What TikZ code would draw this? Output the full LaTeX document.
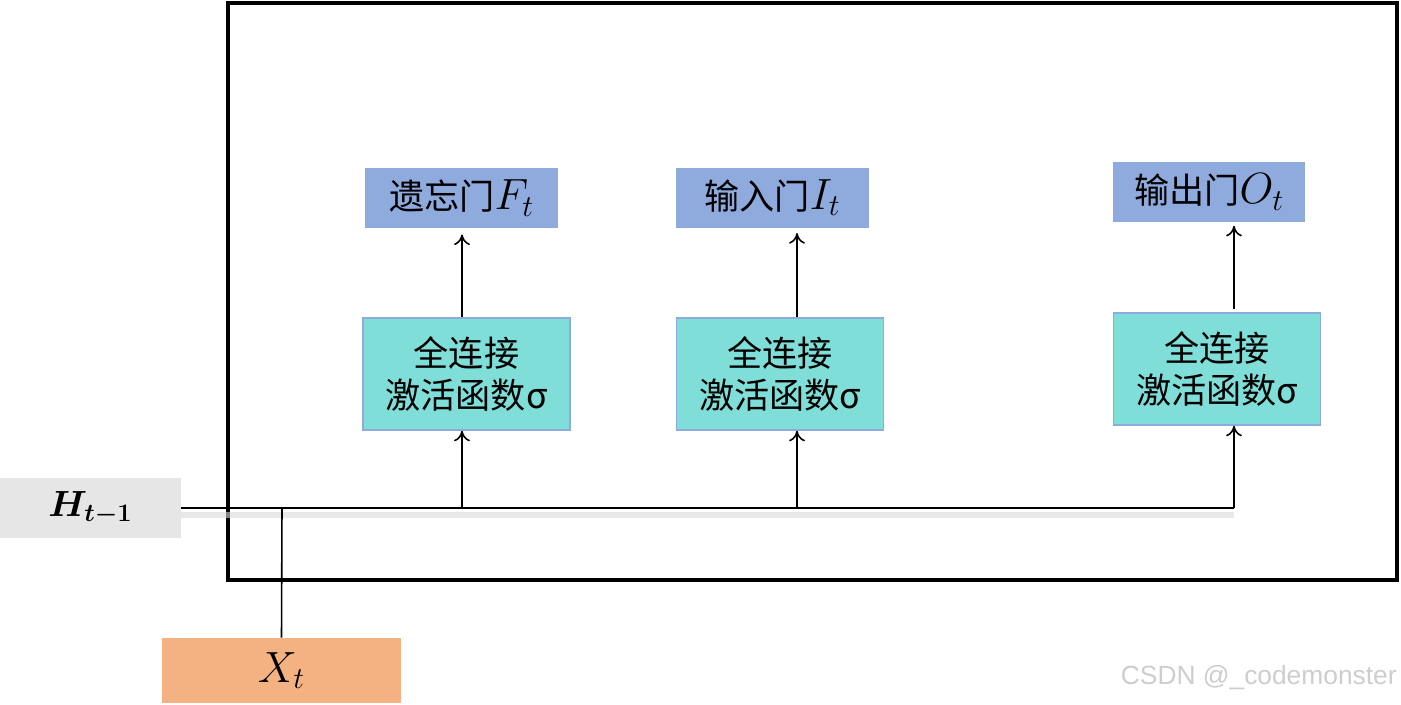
\documentclass[tikz,border=0pt]{standalone}
\usepackage{amsmath,amssymb,bm}
\usepackage{fontspec}
\newfontfamily\cjk{Noto Sans CJK SC}
\newfontfamily\wmfont{Liberation Sans}
\usetikzlibrary{arrows.meta}
\definecolor{gatefill}{RGB}{143,170,220}
\definecolor{fcfill}{RGB}{128,222,217}
\definecolor{hfill}{RGB}{230,230,230}
\definecolor{xfill}{RGB}{244,178,131}
\definecolor{wmark}{RGB}{205,205,205}
\newcommand{\gatemath}[1]{{\fontsize{23}{24}\selectfont$#1$}}
\tikzset{
  gate/.style ={fill=gatefill, minimum width=3.86cm, minimum height=1.2cm, inner sep=0pt,
                font=\cjk\fontsize{20}{22}\selectfont},
  fc/.style   ={fill=fcfill, draw=gatefill, line width=0.9pt, minimum width=4.14cm,
                minimum height=2.24cm, inner sep=0pt, align=center,
                font=\cjk\fontsize{20}{23.5}\selectfont},
  inbox/.style={inner sep=0pt, font=\fontsize{23}{24}\selectfont},
  wire/.style ={draw=black, line width=0.9pt},
  shd/.style  ={draw=black!15, line width=3.5pt, opacity=0.6},
  ptr/.style  ={wire, -{To[length=6pt,width=9pt]}},
}

\begin{document}
\begin{tikzpicture}[x=0.02cm,y=-0.02cm]
  \useasboundingbox (0,0) rectangle (1401,704);
  % outer cell frame
  \draw[line width=2.3pt] (228,3) rectangle (1397,580);
  % inputs
  \node[inbox, fill=hfill, minimum width=3.62cm, minimum height=1.2cm,
        font=\fontsize{20}{22}\selectfont] (hprev) at (90.5,508) {$\boldsymbol{H_{t-1}}$};
  \node[inbox, fill=xfill, minimum width=4.78cm, minimum height=1.3cm] (xin) at (281.5,670.5) {$X_t$};
  % fully connected layers
  \node[fc] (fc1) at (466.5,374) {全连接\\激活函数σ};
  \node[fc] (fc2) at (780,374) {全连接\\激活函数σ};
  \node[fc] (fc3) at (1217,369) {全连接\\激活函数σ};
  % gates
  \node[gate] (gf) at (461.5,198) {遗忘门\gatemath{F_t}};
  \node[gate] (gi) at (772.5,197.5) {输入门\gatemath{I_t}};
  \node[gate] (go) at (1209,192) {输出门\gatemath{O_t}};
  % taps on the input bus
  \coordinate (j0) at (282,508);
  \coordinate (t1) at (462,508);
  \coordinate (t2) at (797,508);
  \coordinate (t3) at (1234,508);
  % bus
  \draw[shd] ([yshift=-4pt]hprev.east) -- ([yshift=-4pt]t3);
  \draw[wire] (hprev.east) -- (t3);
  \draw[wire] (xin.north) -- (j0);
  \draw[ptr] (t1) -- (t1 |- fc1.south);
  \draw[ptr] (t2) -- (t2 |- fc2.south);
  \draw[ptr] (t3) -- (t3 |- fc3.south);
  \draw[ptr, shorten >=3.5pt] (fc1.north -| t1) -- (gf.south -| t1);
  \draw[ptr, shorten >=3pt] (fc2.north -| t2) -- (gi.south -| t2);
  \draw[ptr, shorten >=2pt] ([yshift=2pt]fc3.north -| t3) -- (go.south -| t3);
  % watermark
  \node[anchor=east, inner sep=0pt, text=wmark, font=\wmfont\fontsize{15}{18}\selectfont] (wm) at (1397,678) {CSDN @\_codemonster};
\end{tikzpicture}
\end{document}
